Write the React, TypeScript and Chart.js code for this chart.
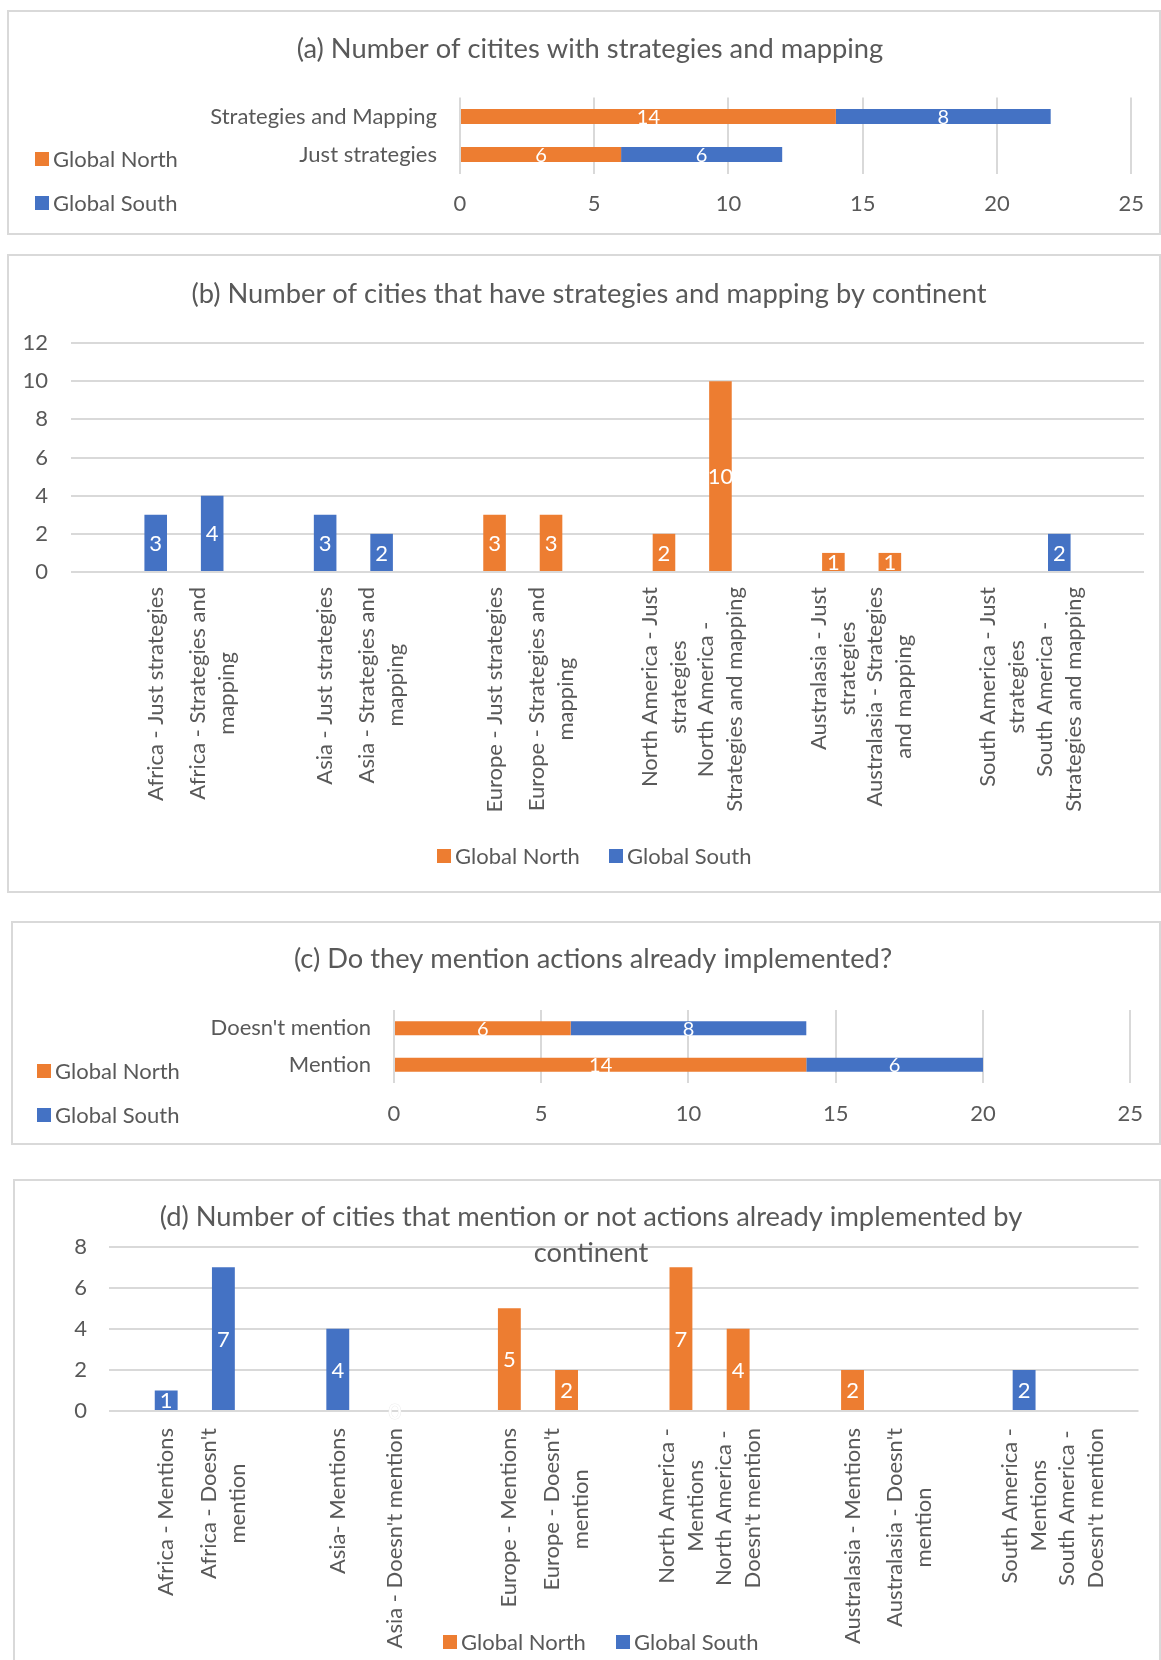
import React, { useEffect, useRef } from 'react';
import { Chart, registerables } from 'chart.js';

Chart.register(...registerables);

const FONT = 'Lato';
const TEXT = '#595959';
const GRID = '#d9d9d9';
const NORTH = '#ED7D31';
const SOUTH = '#4472C4';
const TITLE_SIZE = 27.3;

const seriesNames = ['Global North', 'Global South'];
const seriesColors = [NORTH, SOUTH];

// (a) cities with strategies and mapping
const aTitle = ['(a) Number of citites with strategies and mapping'];
const aCategories = ['Strategies and Mapping', 'Just strategies'];
const aNorth = [14, 6];
const aSouth = [8, 6];
const countTicks = [0, 5, 10, 15, 20, 25];

// (b) strategies and mapping by continent
const bTitle = ['(b) Number of cities that have strategies and mapping by continent'];
const bCategories: string[][] = [
  ['Africa - Just strategies'],
  ['Africa - Strategies and', 'mapping'],
  ['Asia - Just strategies'],
  ['Asia - Strategies and', 'mapping'],
  ['Europe - Just strategies'],
  ['Europe - Strategies and', 'mapping'],
  ['North America - Just', 'strategies'],
  ['North America -', 'Strategies and mapping'],
  ['Australasia - Just', 'strategies'],
  ['Australasia - Strategies', 'and mapping'],
  ['South America - Just', 'strategies'],
  ['South America -', 'Strategies and mapping'],
];
const bNorth = [null, null, null, null, 3, 3, 2, 10, 1, 1, null, null];
const bSouth = [3, 4, 3, 2, null, null, null, null, null, null, null, 2];
const bTicks = [0, 2, 4, 6, 8, 10, 12];

// (c) actions already implemented
const cTitle = ['(c) Do they mention actions already implemented?'];
const cCategories = ["Doesn't mention", 'Mention'];
const cNorth = [6, 14];
const cSouth = [8, 6];

// (d) actions already implemented by continent
const dTitle = [
  '(d) Number of cities that mention or not actions already implemented by',
  'continent',
];
const dCategories: string[][] = [
  ['Africa - Mentions'],
  ["Africa - Doesn't", 'mention'],
  ['Asia- Mentions'],
  ["Asia - Doesn't mention"],
  ['Europe - Mentions'],
  ["Europe - Doesn't", 'mention'],
  ['North America -', 'Mentions'],
  ['North America -', "Doesn't mention"],
  ['Australasia - Mentions'],
  ["Australasia - Doesn't", 'mention'],
  ['South America -', 'Mentions'],
  ['South America -', "Doesn't mention"],
];
const dNorth = [null, null, null, null, 5, 2, 7, 4, 2, null, null, null];
const dSouth = [1, 7, 4, 0, null, null, null, null, null, null, 2, null];
const dTicks = [0, 2, 4, 6, 8];

// Continent pairs are separated by an empty slot, with one more at each end.
function spaced<T>(items: T[], gap: T): T[] {
  const out: T[] = [gap];
  items.forEach((it, i) => {
    out.push(it);
    if (i % 2 === 1) out.push(gap);
  });
  return out;
}

type Box = { x: number; y: number; w: number; h: number };

type Decor = {
  title: string[];
  titleX: number;
  titleY: number;
  titleLead: number;
  titleSize: number;
  legendX: number;
  legendY: number;
  legendDX: number;
  legendDY: number;
  openBottom?: boolean;
  rotated?: { lines: string[][]; gap: number; lead: number; size: number };
};

function decor(s: Decor) {
  return {
    id: 'decor',
    beforeDraw(chart: any) {
      const { ctx, width, height } = chart;
      ctx.save();
      ctx.fillStyle = '#ffffff';
      ctx.fillRect(0, 0, width, height);
      ctx.strokeStyle = GRID;
      ctx.lineWidth = 2;
      ctx.strokeRect(1, 1, width - 2, s.openBottom ? height + 20 : height - 2);
      ctx.restore();
    },
    afterDraw(chart: any) {
      const ctx = chart.ctx;
      ctx.save();
      ctx.fillStyle = TEXT;
      ctx.textAlign = 'center';
      ctx.textBaseline = 'middle';
      ctx.font = `${s.titleSize}px ${FONT}`;
      s.title.forEach((t, i) => ctx.fillText(t, s.titleX, s.titleY + i * s.titleLead));

      // legend
      ctx.font = `22px ${FONT}`;
      ctx.textAlign = 'left';
      chart.data.datasets.forEach((ds: any, i: number) => {
        const x = s.legendX + i * s.legendDX;
        const y = s.legendY + i * s.legendDY;
        ctx.fillStyle = ds.backgroundColor;
        ctx.fillRect(x, y - 7, 14, 14);
        ctx.fillStyle = TEXT;
        ctx.fillText(ds.label, x + 18, y + 1);
      });

      // wrapped category labels, rotated, each block centred on its slot
      if (s.rotated) {
        const r = s.rotated;
        const scale = chart.scales.x;
        ctx.font = `${r.size}px ${FONT}`;
        ctx.textAlign = 'center';
        ctx.fillStyle = TEXT;
        r.lines.forEach((lines, i) => {
          if (!lines || !lines.length) return;
          const cx = scale.getPixelForValue(i);
          const maxW = Math.max(...lines.map((l) => ctx.measureText(l).width));
          lines.forEach((line, j) => {
            const dx = (j - (lines.length - 1) / 2) * r.lead;
            ctx.save();
            ctx.translate(cx + dx, chart.chartArea.bottom + r.gap + maxW / 2);
            ctx.rotate(-Math.PI / 2);
            ctx.fillText(line, 0, 0);
            ctx.restore();
          });
        });
      }
      ctx.restore();
    },
  };
}

function valueLabels(size: number) {
  return {
    id: 'valueLabels',
    afterDatasetsDraw(chart: any) {
      const ctx = chart.ctx;
      ctx.save();
      ctx.font = `${size}px ${FONT}`;
      ctx.textAlign = 'center';
      ctx.textBaseline = 'middle';
      chart.data.datasets.forEach((ds: any, di: number) => {
        const meta = chart.getDatasetMeta(di);
        meta.data.forEach((el: any, i: number) => {
          const v = ds.data[i];
          if (v === null || v === undefined) return;
          const p = el.getCenterPoint();
          if (v === 0) {
            ctx.strokeStyle = '#ececec';
            ctx.lineWidth = 1;
            ctx.strokeText(String(v), p.x, p.y + 1);
          }
          ctx.fillStyle = '#ffffff';
          ctx.fillText(String(v), p.x, p.y + 1);
        });
      });
      ctx.restore();
    },
  };
}

function datasets(north: (number | null)[], south: (number | null)[], barPct: number) {
  return [north, south].map((data, i) => ({
    label: seriesNames[i],
    data,
    backgroundColor: seriesColors[i],
    borderWidth: 0,
    barPercentage: barPct,
    categoryPercentage: 1,
  }));
}

type HSpec = {
  categories: string[];
  north: number[];
  south: number[];
  top: number;
  right: number;
  yWidth: number;
  xHeight: number;
  labelPad: number;
  tickPad: number;
  barPct: number;
  decor: Decor;
};

function horizontalConfig(p: HSpec) {
  const font = { family: FONT, size: 22 };
  return {
    type: 'bar',
    data: { labels: p.categories, datasets: datasets(p.north, p.south, p.barPct) },
    options: {
      indexAxis: 'y',
      responsive: false,
      maintainAspectRatio: false,
      animation: false,
      events: [],
      layout: { padding: { top: p.top, right: p.right, bottom: 0, left: 0 } },
      plugins: { legend: { display: false }, title: { display: false }, tooltip: { enabled: false } },
      scales: {
        x: {
          type: 'linear',
          stacked: true,
          min: countTicks[0],
          max: countTicks[countTicks.length - 1],
          ticks: { stepSize: countTicks[1] - countTicks[0], padding: p.tickPad, color: TEXT, font },
          grid: { color: GRID, lineWidth: 2, drawTicks: false },
          border: { display: false },
          afterFit: (s: any) => {
            s.height = p.xHeight;
          },
        },
        y: {
          stacked: true,
          ticks: { padding: p.labelPad, color: TEXT, font },
          grid: { display: false, drawTicks: false },
          border: { display: false },
          afterFit: (s: any) => {
            s.width = p.yWidth;
          },
        },
      },
    },
    plugins: [decor(p.decor), valueLabels(20)],
  };
}

type VSpec = {
  categories: string[][];
  north: (number | null)[];
  south: (number | null)[];
  ticks: number[];
  offset: boolean;
  top: number;
  right: number;
  yWidth: number;
  xHeight: number;
  labelPad: number;
  barPct: number;
  decor: Decor;
};

function verticalConfig(p: VSpec) {
  const font = { family: FONT, size: 22 };
  const slots = spaced(p.categories, [] as string[]);
  return {
    type: 'bar',
    data: {
      labels: slots.map((l) => l.join(' ')),
      datasets: datasets(spaced(p.north, null), spaced(p.south, null), p.barPct),
    },
    options: {
      responsive: false,
      maintainAspectRatio: false,
      animation: false,
      events: [],
      layout: { padding: { top: p.top, right: p.right, bottom: 0, left: 0 } },
      plugins: { legend: { display: false }, title: { display: false }, tooltip: { enabled: false } },
      scales: {
        x: {
          stacked: true,
          offset: p.offset,
          ticks: { display: false },
          grid: { display: false, drawTicks: false },
          border: { display: false },
          afterFit: (s: any) => {
            s.height = p.xHeight;
          },
        },
        y: {
          stacked: true,
          min: p.ticks[0],
          max: p.ticks[p.ticks.length - 1],
          ticks: { stepSize: p.ticks[1] - p.ticks[0], padding: p.labelPad, color: TEXT, font },
          grid: { color: GRID, lineWidth: 2, drawTicks: false },
          border: { display: false },
          afterFit: (s: any) => {
            s.width = p.yWidth;
          },
        },
      },
    },
    plugins: [decor({ ...p.decor, rotated: { ...p.decor.rotated!, lines: slots } }), valueLabels(22)],
  };
}

const boxA: Box = { x: 7, y: 10, w: 1154, h: 225 };
const boxB: Box = { x: 7, y: 254, w: 1154, h: 639 };
const boxC: Box = { x: 11, y: 921, w: 1150, h: 224 };
const boxD: Box = { x: 13, y: 1179, w: 1148, h: 481 };

const configA = horizontalConfig({
  categories: aCategories,
  north: aNorth,
  south: aSouth,
  top: 87.5,
  right: 29.5,
  yWidth: 453,
  xHeight: 61.5,
  labelPad: 23,
  tickPad: 17,
  barPct: 0.4,
  decor: {
    title: aTitle,
    titleX: 583,
    titleY: 39,
    titleLead: 35,
    titleSize: TITLE_SIZE,
    legendX: 28,
    legendY: 149,
    legendDX: 0,
    legendDY: 44,
  },
});

const configB = verticalConfig({
  categories: bCategories,
  north: bNorth,
  south: bSouth,
  ticks: bTicks,
  offset: true,
  top: 89,
  right: 17,
  yWidth: 64,
  xHeight: 321,
  labelPad: 23,
  barPct: 0.4,
  decor: {
    title: bTitle,
    titleX: 582,
    titleY: 40,
    titleLead: 35,
    titleSize: TITLE_SIZE,
    legendX: 430,
    legendY: 602,
    legendDX: 172,
    legendDY: 0,
    rotated: { lines: [], gap: 15, lead: 29, size: 22 },
  },
});

const configC = horizontalConfig({
  categories: cCategories,
  north: cNorth,
  south: cSouth,
  top: 89,
  right: 27,
  yWidth: 383,
  xHeight: 62,
  labelPad: 23,
  tickPad: 18,
  barPct: 0.39,
  decor: {
    title: cTitle,
    titleX: 582,
    titleY: 38,
    titleLead: 35,
    titleSize: TITLE_SIZE,
    legendX: 26,
    legendY: 150,
    legendDX: 0,
    legendDY: 44,
  },
});

const configD = verticalConfig({
  categories: dCategories,
  north: dNorth,
  south: dSouth,
  ticks: dTicks,
  offset: false,
  top: 67.7,
  right: 22.5,
  yWidth: 96,
  xHeight: 249,
  labelPad: 22,
  barPct: 0.4,
  decor: {
    title: dTitle,
    titleX: 578,
    titleY: 38,
    titleLead: 36,
    titleSize: TITLE_SIZE,
    legendX: 430,
    legendY: 463,
    legendDX: 173,
    legendDY: 0,
    openBottom: true,
    rotated: { lines: [], gap: 17, lead: 29, size: 22 },
  },
});

function Panel({ box, config }: { box: Box; config: any }) {
  const ref = useRef<HTMLCanvasElement>(null);
  useEffect(() => {
    const chart = new Chart(ref.current as HTMLCanvasElement, config);
    return () => chart.destroy();
  }, [config]);
  return (
    <canvas
      ref={ref}
      width={box.w}
      height={box.h}
      style={{ position: 'absolute', left: box.x, top: box.y, width: box.w, height: box.h }}
    />
  );
}

export default function App() {
  return (
    <div
      style={{
        position: 'absolute',
        left: 0,
        top: 0,
        width: 1161,
        height: 1660,
        overflow: 'hidden',
        background: '#ffffff',
        fontFamily: FONT,
      }}
    >
      <Panel box={boxA} config={configA} />
      <Panel box={boxB} config={configB} />
      <Panel box={boxC} config={configC} />
      <Panel box={boxD} config={configD} />
    </div>
  );
}
